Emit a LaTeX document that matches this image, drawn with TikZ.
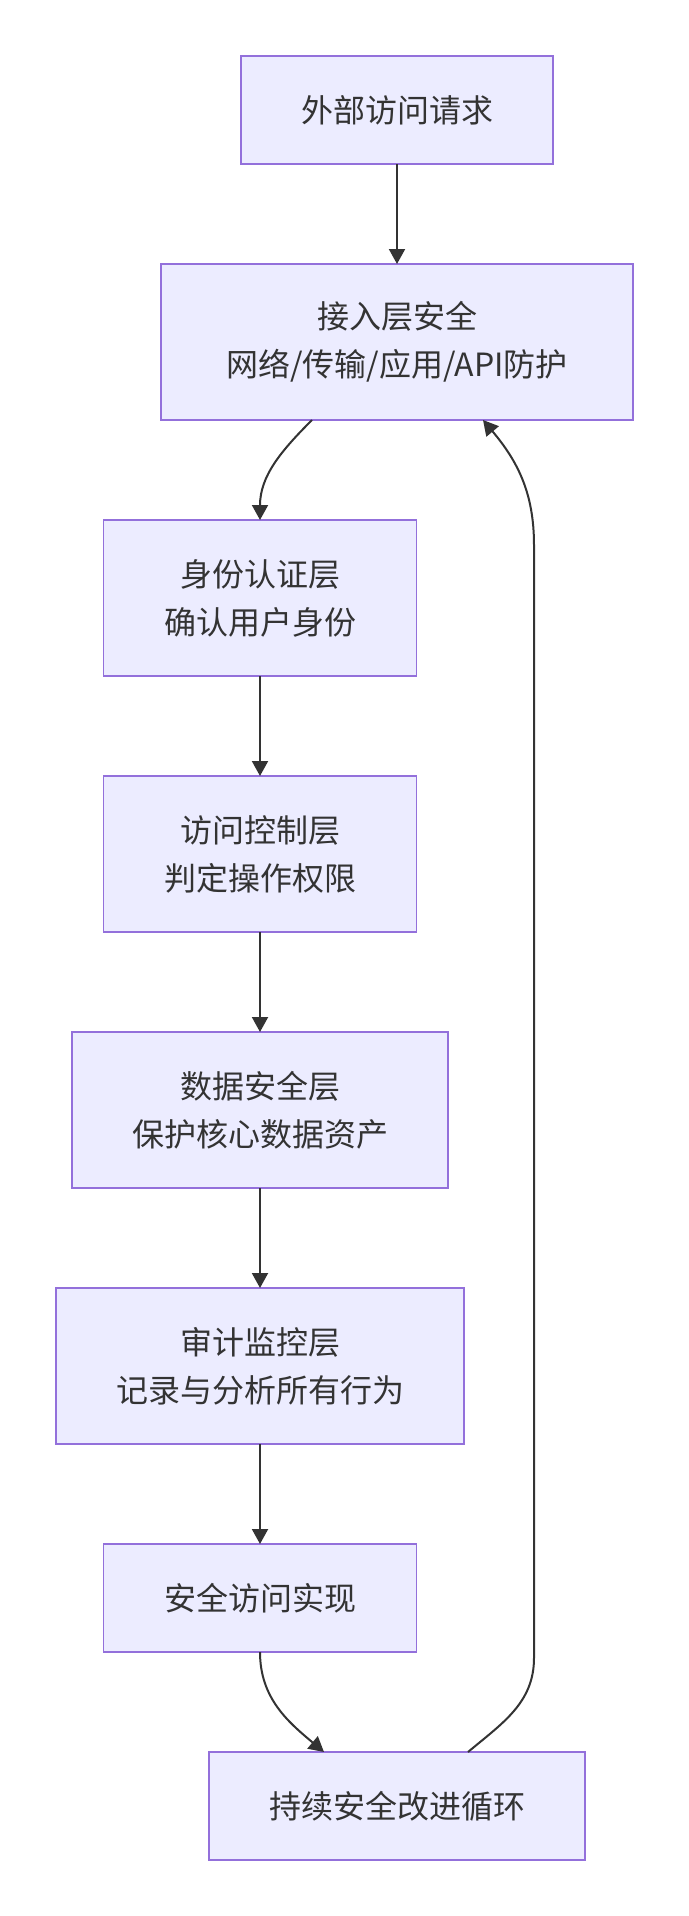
\documentclass[tikz,border=0pt]{standalone}
\usepackage{fontspec}
\newfontfamily\cjk{Noto Sans CJK SC}
\usepackage{tikz}
\usetikzlibrary{positioning, arrows.meta}
\definecolor{boxfill}{HTML}{ECECFF}
\definecolor{boxline}{HTML}{9370DB}
\definecolor{ink}{HTML}{333333}
\begin{document}
\begin{tikzpicture}[x=1pt, y=1pt, >={Triangle[length=15pt, width=16pt]},
    every node/.style={align=center, inner sep=0pt, outer sep=0pt, text=ink, font=\cjk\fontsize{32}{48}\selectfont},
    layer/.style={draw=boxline, fill=boxfill, line width=1.5pt, minimum height=156pt},
    flat/.style={layer, minimum height=108pt},
    link/.style={->, draw=ink, line width=2pt}]
    \useasboundingbox (0,0) rectangle (688,-1916);

    % Main chain
    \node (req) [flat, minimum width=312pt] at (397,-110) {外部访问请求};
    \node (access) [below=100pt of req, layer, minimum width=472pt] {接入层安全\\网络/传输/应用/API防护};
    \node (auth) [below=100pt of access, xshift=-137pt, layer, minimum width=313pt] {身份认证层\\确认用户身份};
    \node (ctrl) [below=100pt of auth, layer, minimum width=313pt] {访问控制层\\判定操作权限};
    \node (data) [below=100pt of ctrl, layer, minimum width=376pt] {数据安全层\\保护核心数据资产};
    \node (audit) [below=100pt of data, layer, minimum width=408pt] {审计监控层\\记录与分析所有行为};
    \node (safe) [below=100pt of audit, flat, minimum width=313pt] {安全访问实现};
    \node (loop) [below=100pt of safe, xshift=137pt, flat, minimum width=376pt] {持续安全改进循环};

    % Return path
    \coordinate (backlow) at (534,-1658);
    \coordinate (backhigh) at (534,-545);

    % Connection arrows
    \draw[link] (req) -- (access);
    \draw[link] ([xshift=-85pt]access.south) to[out=-135, in=90] (auth.north);
    \draw[link] (auth) -- (ctrl);
    \draw[link] (ctrl) -- (data);
    \draw[link] (data) -- (audit);
    \draw[link] (audit) -- (safe);
    \draw[link] (safe.south) to[out=-90, in=140] ([xshift=-73pt]loop.north);
    \draw[link] ([xshift=71pt]loop.north) to[out=40, in=-90] (backlow) -- (backhigh) to[out=90, in=-50] ([xshift=86pt]access.south);
\end{tikzpicture}
\end{document}
